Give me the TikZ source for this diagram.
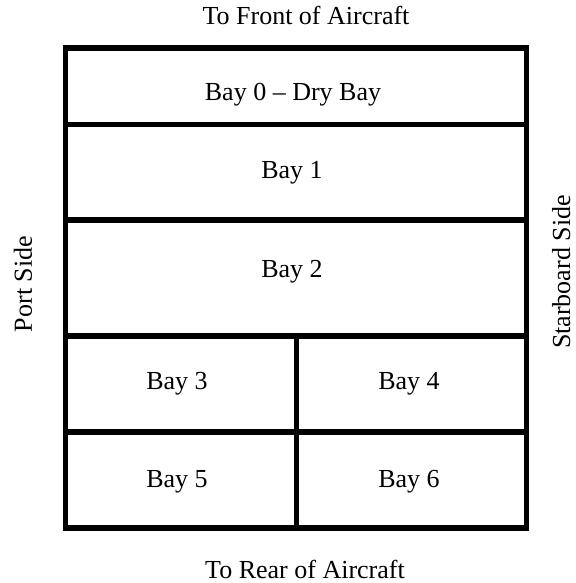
\documentclass[tikz,border=0pt]{standalone}
\usepackage{fontspec}
\setmainfont{Liberation Serif}
\begin{document}
\begin{tikzpicture}[x=0.5pt,y=-0.5pt,
  wall/.style={line width=2.75pt,line cap=rect,line join=miter},
  lbl/.style={inner sep=0pt,font=\fontsize{13}{15}\selectfont}]
\useasboundingbox (0,0) rectangle (575,583);
% outline and partitions
\coordinate (tl) at (65.5,48);
\coordinate (br) at (526.3,528);
\draw[wall] (tl) rectangle (br);
\draw[wall] (65.5,124.5) -- (526.3,124.5);
\draw[wall] (65.5,220) -- (526.3,220);
\draw[wall] (65.5,336) -- (526.3,336);
\draw[wall] (65.5,432) -- (526.3,432);
\draw[wall] (296.3,336) -- (296.3,528);
% bay labels
\node[lbl,anchor=base] (b0) at (293,101) {Bay 0 -- Dry Bay};
\node[lbl,anchor=base] (b1) at (292,178) {Bay 1};
\node[lbl,anchor=base] (b2) at (292,277) {Bay 2};
\node[lbl,anchor=base] (b3) at (177,389) {Bay 3};
\node[lbl,anchor=base] (b4) at (409,389) {Bay 4};
\node[lbl,anchor=base] (b5) at (177,487) {Bay 5};
\node[lbl,anchor=base] (b6) at (409,487) {Bay 6};
% surrounding labels
\node[lbl,anchor=base] (front) at (306,25) {To Front of Aircraft};
\node[lbl,anchor=base] (rear) at (305,578) {To Rear of Aircraft};
\node[lbl,anchor=base,rotate=90] (port) at (32,284) {Port Side};
\node[lbl,anchor=base,rotate=90] (star) at (570,272) {Starboard Side};
\end{tikzpicture}
\end{document}
